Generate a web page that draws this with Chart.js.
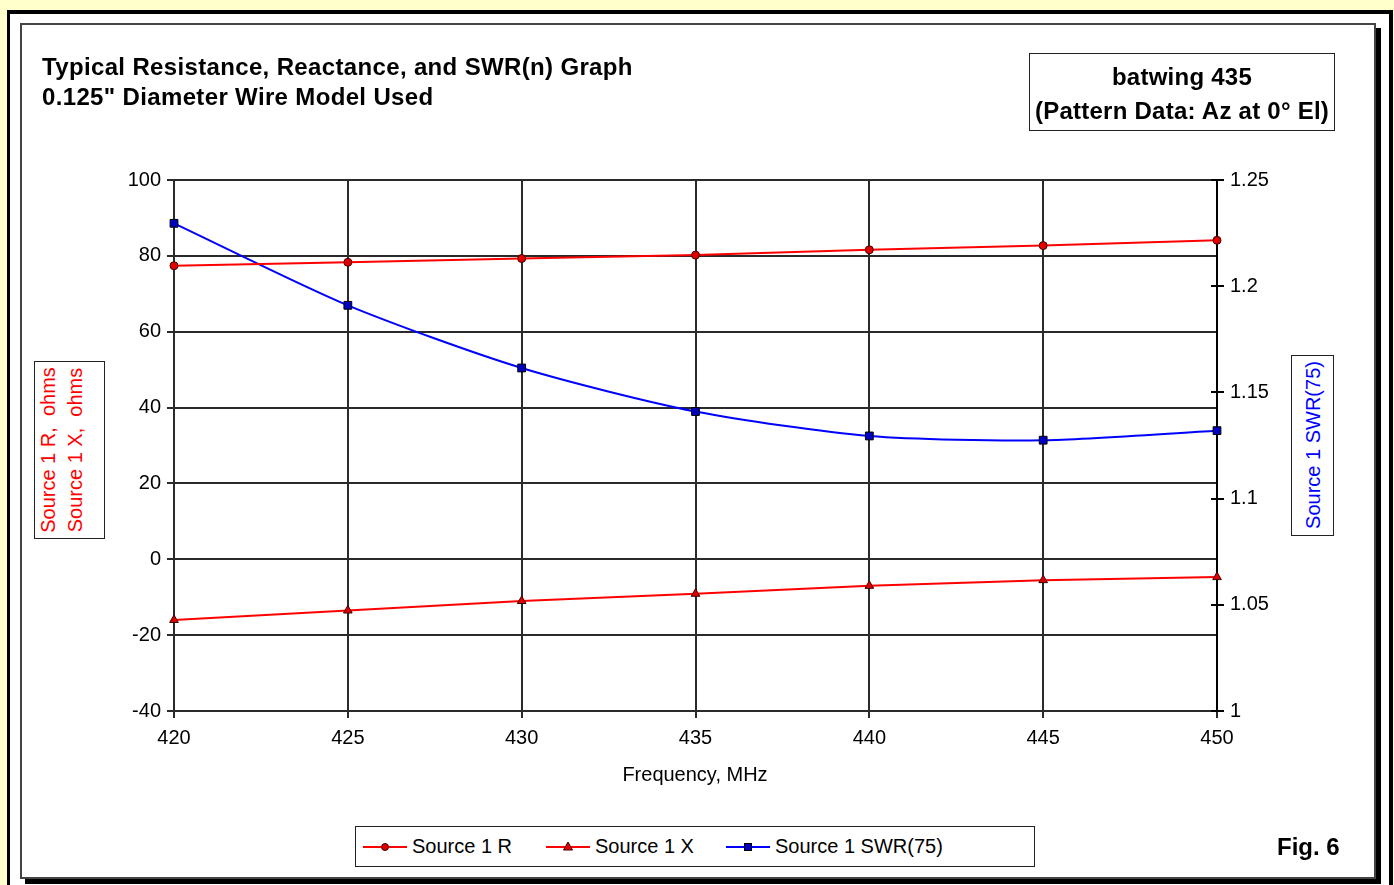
<!DOCTYPE html>
<html>
<head>
<meta charset="utf-8">
<script src="https://cdn.jsdelivr.net/npm/chart.js@4.4.1/dist/chart.umd.min.js"></script>
<style>
  html, body { margin:0; padding:0; }
  body { width:1394px; height:885px; background:#FFFFCC; position:relative; overflow:hidden;
         font-family:"Liberation Sans", Arial, sans-serif; }
  .outer { position:absolute; left:7px; top:10px; width:1379px; height:880px; background:#fff;
           border-left:3px solid #000; border-top:4px solid #000; border-right:4px solid #000; }
  .inner { position:absolute; left:20px; top:23px; width:1352px; height:852px;
           border:2px solid #444; background:#fff; box-shadow:5px 5px 0 #000; }
  canvas#c { position:absolute; left:0; top:0; }
  .title { position:absolute; left:42px; top:52px; font-weight:bold; font-size:24px; line-height:30px; color:#000; white-space:nowrap; letter-spacing:0.35px; }
  .nbox { position:absolute; left:1029px; top:53px; width:304px; height:76px; border:1.5px solid #222; }
  .nbox div { position:absolute; left:0; width:100%; text-align:center; font-weight:bold; font-size:24px; line-height:30px; white-space:nowrap; letter-spacing:0.25px; }
  .fig { position:absolute; left:1277px; top:832px; font-weight:bold; font-size:24px; line-height:30px; }
  .abox { position:absolute; border:1.5px solid #222; background:#fff; }
  .rot { position:absolute; transform:rotate(-90deg); text-align:center; font-size:20px; white-space:nowrap; }
  .xtitle { position:absolute; left:595px; width:200px; top:762px; text-align:center; font-size:20px; line-height:24px; }
  .legend { position:absolute; left:355px; top:826px; width:678px; height:39px; border:1.5px solid #222; background:#fff; }
  .litem { position:absolute; top:0; height:39px; }
  .litem svg { position:absolute; left:0; top:12px; }
  .litem span { position:absolute; top:7px; font-size:20px; line-height:24px; white-space:nowrap; }
</style>
</head>
<body>
<div class="outer"></div>
<div class="inner"></div>
<canvas id="c" width="1394" height="885"></canvas>

<div class="title">Typical Resistance, Reactance, and SWR(n) Graph<br>0.125" Diameter Wire Model Used</div>
<div class="nbox">
  <div style="top:8px">batwing 435</div>
  <div style="top:42px">(Pattern Data: Az at 0° El)</div>
</div>
<div class="fig">Fig. 6</div>

<div class="abox" style="left:34px; top:361px; width:69px; height:176px;">
  <div class="rot" style="left:-54px; top:54px; width:176px; height:68px; line-height:27px; color:#ff0000;">Source 1 R,&nbsp; ohms<br>Source 1 X,&nbsp; ohms</div>
</div>
<div class="abox" style="left:1291px; top:355px; width:41px; height:179px;">
  <div class="rot" style="left:-69px; top:69px; width:179px; height:40px; line-height:40px; color:#0000ff;">Source 1 SWR(75)</div>
</div>
<div class="xtitle">Frequency, MHz</div>
<div class="legend" id="legend"></div>

<script>
// ---- data ----
const freqMHz   = [420, 425, 430, 435, 440, 445, 450];
const source1R  = [77.4, 78.3, 79.3, 80.2, 81.6, 82.7, 84.1];
const source1X  = [-16.0, -13.5, -11.0, -9.1, -7.0, -5.5, -4.7];
const source1SWR = [1.2296, 1.191, 1.1615, 1.141, 1.1295, 1.1275, 1.132];
const seriesNames = ['Source 1 R', 'Source 1 X', 'Source 1 SWR(75)'];
const xTicks     = [420, 425, 430, 435, 440, 445, 450];
const leftTicks  = [-40, -20, 0, 20, 40, 60, 80, 100];
const rightTicks = [1, 1.05, 1.1, 1.15, 1.2, 1.25];

const pts = arr => freqMHz.map((f, i) => ({ x: f, y: arr[i] }));
const FONT = { family: '"Liberation Sans", Arial, sans-serif', size: 20 };
const GRID = '#2a2a2a';

const innerTicks = {
  id: 'innerTicks',
  afterDraw(chart) {
    const s = chart.scales.y1, c = chart.ctx;
    c.save(); c.strokeStyle = '#000'; c.lineWidth = 2;
    s.ticks.forEach(t => {
      const y = Math.round(s.getPixelForValue(t.value));
      c.beginPath(); c.moveTo(s.left - 6, y); c.lineTo(s.left, y); c.stroke();
    });
    c.restore();
  }
};

const chart = new Chart(document.getElementById('c'), {
  type: 'line',
  data: {
    datasets: [
      { label: seriesNames[0], data: pts(source1R), yAxisID: 'y', borderColor: '#ff0000', borderWidth: 2, clip: false,
        pointStyle: 'circle', pointRadius: 4, pointBackgroundColor: '#e00000', pointBorderColor: '#400000', pointBorderWidth: 1, tension: 0 },
      { label: seriesNames[1], data: pts(source1X), yAxisID: 'y', borderColor: '#ff0000', borderWidth: 2, clip: false,
        pointStyle: 'triangle', pointRadius: 5, pointBackgroundColor: '#e00000', pointBorderColor: '#400000', pointBorderWidth: 1, tension: 0 },
      { label: seriesNames[2], data: pts(source1SWR), yAxisID: 'y1', borderColor: '#0000ff', borderWidth: 2, clip: false,
        pointStyle: 'rect', pointRadius: 5.5, pointBackgroundColor: '#0000c0', pointBorderColor: '#000', pointBorderWidth: 1, tension: 0.25 }
    ]
  },
  options: {
    responsive: false, animation: false, devicePixelRatio: 1,
    layout: { padding: { top: 180, left: 0, right: 0, bottom: 0 } },
    plugins: { legend: { display: false }, tooltip: { enabled: false } },
    scales: {
      x: {
        type: 'linear', min: 420, max: 450,
        afterBuildTicks: s => { s.ticks = xTicks.map(v => ({ value: v })); },
        ticks: { font: FONT, color: '#000', padding: 8 },
        grid: { color: GRID, lineWidth: 2, tickLength: 7 },
        border: { color: GRID, width: 2 },
        afterFit: s => { s.height = 174; }
      },
      y: {
        position: 'left', min: -40, max: 100,
        afterBuildTicks: s => { s.ticks = leftTicks.map(v => ({ value: v })); },
        ticks: { font: FONT, color: '#000', padding: 6 },
        grid: { color: GRID, lineWidth: 2, tickLength: 7 },
        border: { color: GRID, width: 2 },
        afterFit: s => { s.width = 174; }
      },
      y1: {
        position: 'right', min: 1, max: 1.25,
        afterBuildTicks: s => { s.ticks = rightTicks.map(v => ({ value: v })); },
        ticks: { font: FONT, color: '#000', padding: 6, callback: v => String(Math.round(v * 100) / 100) },
        grid: { drawOnChartArea: false, color: '#000', lineWidth: 2, tickLength: 7 },
        border: { color: '#000', width: 2 },
        afterFit: s => { s.width = 177; }
      }
    }
  },
  plugins: [innerTicks]
});

// HTML legend built from the datasets
const legendPos = [7, 190, 370];
const lg = document.getElementById('legend');
chart.data.datasets.forEach((ds, i) => {
  const item = document.createElement('div');
  item.className = 'litem';
  item.style.left = legendPos[i] + 'px';
  let mk = '';
  if (ds.pointStyle === 'circle') mk = `<circle cx="22" cy="8" r="3.5" fill="${ds.pointBackgroundColor}" stroke="${ds.pointBorderColor}" stroke-width="1"/>`;
  else if (ds.pointStyle === 'triangle') mk = `<polygon points="22,3 26.5,11 17.5,11" fill="${ds.pointBackgroundColor}" stroke="${ds.pointBorderColor}" stroke-width="1"/>`;
  else mk = `<rect x="18.5" y="4.5" width="7" height="7" fill="${ds.pointBackgroundColor}" stroke="${ds.pointBorderColor}" stroke-width="1"/>`;
  item.innerHTML = `<svg width="46" height="16"><line x1="0" y1="8" x2="44" y2="8" stroke="${ds.borderColor}" stroke-width="2"/>${mk}</svg><span style="left:49px">${ds.label}</span>`;
  lg.appendChild(item);
});
</script>
</body>
</html>
